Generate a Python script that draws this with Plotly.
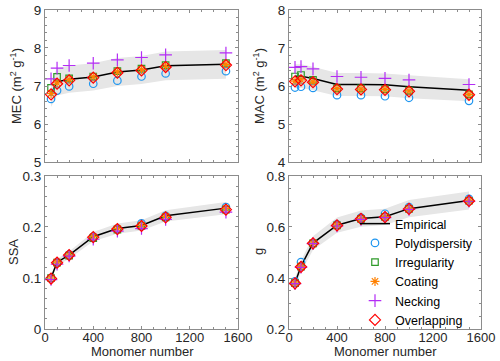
import plotly.graph_objects as go

monomer = [50, 100, 200, 400, 600, 800, 1000, 1500]

# MEC (m2 g-1)
mec_emp = [6.79, 7.11, 7.18, 7.24, 7.37, 7.42, 7.53, 7.57]
mec_lo = [6.45, 6.75, 6.82, 6.88, 7.00, 7.05, 7.15, 7.19]
mec_hi = [7.13, 7.47, 7.54, 7.60, 7.74, 7.79, 7.91, 7.95]
mec_poly = [6.66, 6.88, 6.99, 7.06, 7.14, 7.25, 7.33, 7.39]
mec_irr = [6.95, 7.24, 7.20, 7.25, 7.39, 7.46, 7.55, 7.60]
mec_coat = [6.80, 7.08, 7.17, 7.24, 7.37, 7.43, 7.52, 7.57]
mec_neck = [7.19, 7.47, 7.54, 7.60, 7.69, 7.75, 7.82, 7.87]
mec_over = [6.78, 7.06, 7.15, 7.22, 7.35, 7.41, 7.50, 7.55]

# MAC (m2 g-1)
mac_emp = [6.26, 6.26, 6.20, 6.04, 6.04, 6.03, 5.98, 5.89]
mac_lo = [5.95, 5.95, 5.89, 5.74, 5.74, 5.73, 5.68, 5.60]
mac_hi = [6.57, 6.57, 6.51, 6.34, 6.34, 6.33, 6.28, 6.18]
mac_poly = [5.96, 5.98, 5.95, 5.76, 5.76, 5.73, 5.69, 5.61]
mac_irr = [6.25, 6.29, 6.16, 5.94, 5.94, 5.92, 5.88, 5.78]
mac_coat = [6.13, 6.16, 6.11, 5.93, 5.92, 5.91, 5.87, 5.78]
mac_neck = [6.49, 6.51, 6.45, 6.25, 6.23, 6.20, 6.16, 6.04]
mac_over = [6.12, 6.15, 6.10, 5.92, 5.91, 5.90, 5.86, 5.77]

# SSA
ssa_emp = [0.100, 0.131, 0.145, 0.181, 0.197, 0.203, 0.222, 0.237]
ssa_lo = [0.095, 0.124, 0.138, 0.172, 0.187, 0.193, 0.211, 0.225]
ssa_hi = [0.105, 0.138, 0.152, 0.190, 0.207, 0.213, 0.233, 0.249]
ssa_poly = [0.100, 0.130, 0.146, 0.181, 0.197, 0.207, 0.222, 0.239]
ssa_irr = [0.100, 0.130, 0.144, 0.178, 0.195, 0.202, 0.219, 0.234]
ssa_coat = [0.100, 0.131, 0.145, 0.181, 0.197, 0.203, 0.221, 0.236]
ssa_neck = [0.097, 0.127, 0.143, 0.176, 0.192, 0.197, 0.215, 0.229]
ssa_over = [0.099, 0.130, 0.145, 0.180, 0.196, 0.202, 0.219, 0.234]

# g
g_emp = [0.380, 0.446, 0.537, 0.607, 0.633, 0.640, 0.672, 0.704]
g_lo = [0.361, 0.424, 0.510, 0.577, 0.601, 0.608, 0.638, 0.669]
g_hi = [0.399, 0.468, 0.564, 0.637, 0.665, 0.672, 0.706, 0.739]
g_poly = [0.387, 0.462, 0.536, 0.610, 0.637, 0.652, 0.678, 0.710]
g_irr = [0.380, 0.445, 0.536, 0.606, 0.632, 0.640, 0.671, 0.703]
g_coat = [0.380, 0.446, 0.537, 0.607, 0.633, 0.640, 0.672, 0.704]
g_neck = [0.378, 0.442, 0.535, 0.604, 0.630, 0.637, 0.669, 0.701]
g_over = [0.379, 0.444, 0.536, 0.606, 0.632, 0.639, 0.671, 0.702]

panels = [
    ("x", "y", mec_emp, mec_lo, mec_hi, mec_poly, mec_irr, mec_coat, mec_neck, mec_over),
    ("x2", "y2", mac_emp, mac_lo, mac_hi, mac_poly, mac_irr, mac_coat, mac_neck, mac_over),
    ("x3", "y3", ssa_emp, ssa_lo, ssa_hi, ssa_poly, ssa_irr, ssa_coat, ssa_neck, ssa_over),
    ("x4", "y4", g_emp, g_lo, g_hi, g_poly, g_irr, g_coat, g_neck, g_over),
]

series_style = [
    ("Polydispersity", dict(symbol="circle-open", color="#1E96F0", size=7.5, line=dict(width=1.2, color="#1E96F0"))),
    ("Irregularity", dict(symbol="square-open", color="#2E9A2A", size=6.5, line=dict(width=1.2, color="#2E9A2A"))),
    ("Coating", dict(symbol="asterisk-open", color="#FF8000", size=7.5, line=dict(width=1.2, color="#FF8000"))),
    ("Necking", dict(symbol="cross-thin-open", color="#B42DF5", size=9, line=dict(width=1.2, color="#B42DF5"))),
    ("Overlapping", dict(symbol="diamond-open", color="#FF0000", size=8.5, line=dict(width=1.2, color="#FF0000"))),
]

fig = go.Figure()
for i, (xa, ya, emp, lo, hi, *sims) in enumerate(panels):
    show = (i == 3)
    fig.add_trace(go.Scatter(x=monomer, y=lo, xaxis=xa, yaxis=ya, mode="lines",
                             line=dict(width=0, color="rgba(0,0,0,0)"), showlegend=False, hoverinfo="skip"))
    fig.add_trace(go.Scatter(x=monomer, y=hi, xaxis=xa, yaxis=ya, mode="lines", fill="tonexty",
                             fillcolor="#E6E6E6", line=dict(width=0, color="rgba(0,0,0,0)"),
                             showlegend=False, hoverinfo="skip"))
    fig.add_trace(go.Scatter(x=monomer, y=emp, xaxis=xa, yaxis=ya, mode="lines",
                             line=dict(color="black", width=1.5), name="Empirical", showlegend=show))
    for (name, mk), vals in zip(series_style, sims):
        fig.add_trace(go.Scatter(x=monomer, y=vals, xaxis=xa, yaxis=ya, mode="markers",
                                 marker=mk, name=name, showlegend=show))

font_family = "Liberation Sans, Arial, sans-serif"
axis_color = "#8C8C8C"
text_color = "#262626"
W, H = 500, 361

def xaxis(domain, anchor, labels):
    return dict(domain=domain, anchor=anchor, range=[0, 1600], tickvals=[0, 400, 800, 1200, 1600],
                showticklabels=labels, ticks="inside", ticklen=3, tickcolor=axis_color,
                showline=True, linecolor=axis_color, linewidth=1, mirror="allticks",
                showgrid=False, zeroline=False, automargin=False, ticklabelstandoff=-4,
                minor=dict(dtick=100, ticks="inside", ticklen=2, tickcolor=axis_color, showgrid=False),
                tickfont=dict(size=13, color=text_color))

def yaxis(domain, anchor, rng, dtick, mdtick):
    return dict(domain=domain, anchor=anchor, range=rng, dtick=dtick, tick0=rng[0],
                ticks="inside", ticklen=3, tickcolor=axis_color,
                showline=True, linecolor=axis_color, linewidth=1, mirror="allticks",
                showgrid=False, zeroline=False, automargin=False,
                minor=dict(dtick=mdtick, ticks="inside", ticklen=2, tickcolor=axis_color, showgrid=False),
                tickfont=dict(size=13.5, color=text_color))

xl = [0.09, 0.476]
xr = [0.578, 0.962]
yt = [0.5512, 0.9723]
yb = [0.0886, 0.5125]

def title_ann(text, px, py, angle):
    return dict(text=text, x=px / W, y=1 - py / H, xref="paper", yref="paper",
                xanchor="center", yanchor="middle", showarrow=False, textangle=angle,
                font=dict(size=13, color=text_color, family=font_family))

annotations = [
    title_ann("MEC (m<sup>2</sup> g<sup>-1</sup>)", 16, 86, -90),
    title_ann("MAC (m<sup>2</sup> g<sup>-1</sup>)", 259, 86, -90),
    title_ann("SSA", 13, 252, -90),
    title_ann("g", 258, 252, -90),
    title_ann("Monomer number", 142, 351, 0),
    title_ann("Monomer number", 385, 351, 0),
]

fig.update_layout(
    width=W, height=H,
    margin=dict(l=0, r=0, t=0, b=0),
    paper_bgcolor="white", plot_bgcolor="white",
    font=dict(family=font_family, color=text_color),
    xaxis=xaxis(xl, "y", False),
    xaxis2=xaxis(xr, "y2", False),
    xaxis3=xaxis(xl, "y3", True),
    xaxis4=xaxis(xr, "y4", True),
    yaxis=yaxis(yt, "x", [5, 9], 1, 0.2),
    yaxis2=yaxis(yt, "x2", [4, 8], 1, 0.2),
    yaxis3=yaxis(yb, "x3", [0, 0.3], 0.1, 0.02),
    yaxis4=yaxis(yb, "x4", [0.2, 0.8], 0.2, 0.05),
    annotations=annotations,
    legend=dict(x=0.71, y=0.072, xanchor="left", yanchor="bottom",
                bgcolor="rgba(0,0,0,0)", borderwidth=0, traceorder="normal",
                font=dict(size=12.5, color="black", family=font_family),
                tracegroupgap=0, itemwidth=30),
    showlegend=True,
)

fig.write_html("out.html", config={"displayModeBar": False},
               post_script="document.body.style.margin='0';document.body.style.overflow='hidden';")
